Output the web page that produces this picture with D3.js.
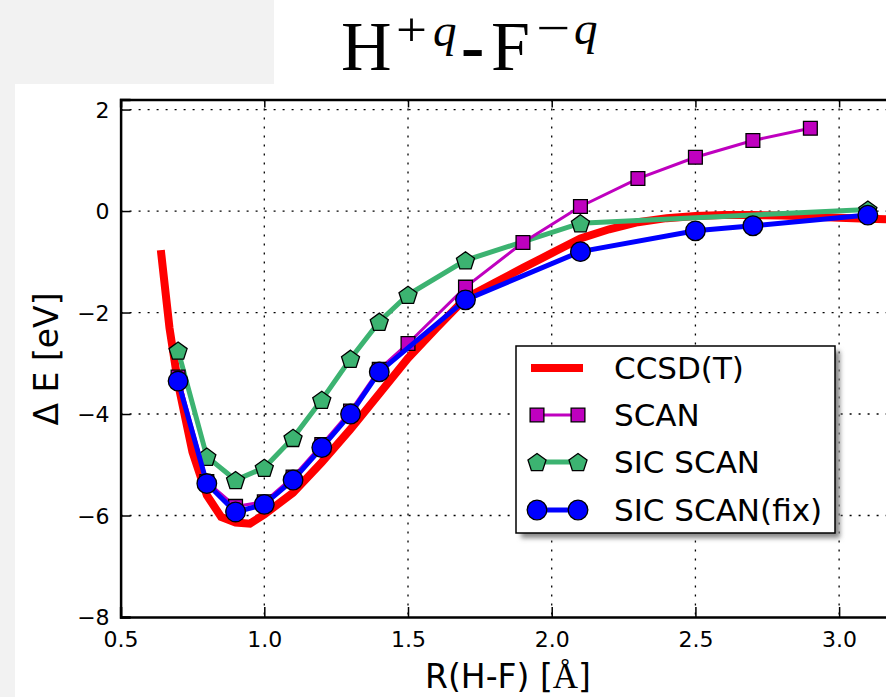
<!DOCTYPE html>
<html>
<head>
<meta charset="utf-8">
<script src="https://cdn.jsdelivr.net/npm/d3@7"></script>
<style>
  html, body { margin: 0; padding: 0; background: #ffffff; }
  svg { display: block; }
</style>
</head>
<body>
<svg id="chart" width="886" height="697"></svg>
<script>
// ---- data ----
const ccsdX = [0.64, 0.67, 0.70, 0.75, 0.80, 0.85, 0.90, 0.95, 1.00, 1.10, 1.20, 1.30, 1.40, 1.50, 1.60, 1.70, 1.80, 1.90, 2.00, 2.10, 2.20, 2.30, 2.40, 2.50, 2.60, 2.70, 2.80, 2.90, 3.00, 3.10, 3.20];
const ccsdY = [-0.77, -2.3, -3.4, -4.75, -5.6, -6.03, -6.14, -6.16, -5.98, -5.55, -4.95, -4.3, -3.6, -2.9, -2.3, -1.72, -1.42, -1.12, -0.83, -0.54, -0.36, -0.22, -0.14, -0.10, -0.08, -0.08, -0.09, -0.11, -0.13, -0.15, -0.17];

const scanX = [0.7, 0.8, 0.9, 1.0, 1.1, 1.2, 1.3, 1.4, 1.5, 1.7, 1.9, 2.1, 2.3, 2.5, 2.7, 2.9];
const scanY = [-3.27, -5.33, -5.82, -5.73, -5.24, -4.6, -3.94, -3.12, -2.61, -1.50, -0.62, 0.09, 0.64, 1.06, 1.39, 1.63];

const sicX = [0.7, 0.8, 0.9, 1.0, 1.1, 1.2, 1.3, 1.4, 1.5, 1.7, 2.1, 3.1];
const sicY = [-2.75, -4.84, -5.30, -5.06, -4.47, -3.72, -2.91, -2.18, -1.65, -0.97, -0.24, 0.03];

const fixX = [0.7, 0.8, 0.9, 1.0, 1.1, 1.2, 1.3, 1.4, 1.7, 2.1, 2.5, 2.7, 3.1];
const fixY = [-3.35, -5.37, -5.93, -5.78, -5.30, -4.66, -4.0, -3.17, -1.75, -0.80, -0.39, -0.29, -0.08];

const xTicks = [0.5, 1.0, 1.5, 2.0, 2.5, 3.0];
const yTicks = [-8, -6, -4, -2, 0, 2];
const legendLabels = ["CCSD(T)", "SCAN", "SIC SCAN", "SIC SCAN(fix)"];

// ---- layout ----
const svg = d3.select("#chart");
const W = 886, H = 697;
const pLeft = 120.6, pTop = 99.4, pBottom = 617, pRight = 896.6;

// background panels
svg.append("rect").attr("x", 0).attr("y", 0).attr("width", W).attr("height", H).attr("fill", "#ffffff");
svg.append("rect").attr("x", 0).attr("y", 0).attr("width", 274).attr("height", 84).attr("fill", "#f2f2f2");
svg.append("rect").attr("x", 0).attr("y", 0).attr("width", 15).attr("height", H).attr("fill", "#f2f2f2");

const x = d3.scaleLinear().domain([0.5, 3.2]).range([pLeft, pRight]);
const y = d3.scaleLinear().domain([-8, 2.2]).range([pBottom, pTop]);

// grid
const grid = svg.append("g");
grid.selectAll("line.vg").data(xTicks.filter(d => d > 0.5)).enter().append("line")
  .attr("x1", d => x(d)).attr("x2", d => x(d)).attr("y1", pTop).attr("y2", pBottom)
  .attr("stroke", "#000").attr("stroke-width", 1.3).attr("stroke-dasharray", "2,7");
grid.selectAll("line.hg").data(yTicks.filter(d => d > -8)).enter().append("line")
  .attr("x1", pLeft).attr("x2", pRight).attr("y1", d => y(d)).attr("y2", d => y(d))
  .attr("stroke", "#000").attr("stroke-width", 1.3).attr("stroke-dasharray", "2,7");

// axes
const fontSans = "'DejaVu Sans', sans-serif";
const xAxis = svg.append("g").attr("transform", `translate(0,${pBottom})`)
  .call(d3.axisBottom(x).tickValues(xTicks).tickFormat(d3.format(".1f")).tickSize(-10).tickPadding(14));
const xAxisTop = svg.append("g").attr("transform", `translate(0,${pTop})`)
  .call(d3.axisTop(x).tickValues(xTicks).tickFormat("").tickSize(-8));
const yAxis = svg.append("g").attr("transform", `translate(${pLeft},0)`)
  .call(d3.axisLeft(y).tickValues(yTicks).tickFormat(d => d < 0 ? "\u2212" + Math.abs(d) : d).tickSize(-10).tickPadding(11));
[xAxis, xAxisTop, yAxis].forEach(g => {
  g.select(".domain").attr("stroke", "#000").attr("stroke-width", 2.5);
  g.selectAll(".tick line").attr("stroke", "#000").attr("stroke-width", 1.5);
  g.selectAll(".tick text").attr("font-family", fontSans).attr("font-size", 22).attr("fill", "#000");
});
yAxis.selectAll(".tick text").attr("dy", "0.36em");

// series
const plot = svg.append("g");
const line = d3.line().x(d => x(d[0])).y(d => y(d[1]));

function pentagon(r) {
  const pts = d3.range(5).map(i => {
    const a = -Math.PI / 2 + i * 2 * Math.PI / 5;
    return [r * Math.cos(a), r * Math.sin(a) + r * 0.1];
  });
  return "M" + pts.map(p => p.join(",")).join("L") + "Z";
}
const sq = d3.symbol().type(d3.symbolSquare).size(190)();
const pent = pentagon(9.5);
const circ = d3.symbol().type(d3.symbolCircle).size(Math.PI * 9.8 * 9.8)();

const zip = (a, b) => a.map((v, i) => [v, b[i]]);

// red
plot.append("path").datum(zip(ccsdX, ccsdY)).attr("d", line)
  .attr("fill", "none").attr("stroke", "#ff0000").attr("stroke-width", 8).attr("stroke-linejoin", "miter");

function series(xs, ys, color, lw, shape) {
  const g = plot.append("g");
  g.append("path").datum(zip(xs, ys)).attr("d", line)
    .attr("fill", "none").attr("stroke", color).attr("stroke-width", lw);
  g.selectAll("path.m").data(zip(xs, ys)).enter().append("path")
    .attr("transform", d => `translate(${x(d[0])},${y(d[1])})`)
    .attr("d", shape).attr("fill", color).attr("stroke", "#000").attr("stroke-width", 1.3);
}
series(sicX, sicY, "#3cb371", 5, pent);
series(scanX, scanY, "#bf00bf", 3, sq);
series(fixX, fixY, "#0000ff", 5, circ);

// axis titles
const serif = "'Liberation Serif', 'Times New Roman', serif";
const xt = svg.append("text").attr("x", 508).attr("y", 688).attr("text-anchor", "middle")
  .attr("font-family", fontSans).attr("font-size", 33).attr("fill", "#000");
xt.append("tspan").text("R(H-F) [");
xt.append("tspan").attr("font-family", serif).attr("font-size", 35).text("Å");
xt.append("tspan").text("]");
svg.append("text").attr("transform", "translate(58,359) rotate(-90)").attr("text-anchor", "middle")
  .attr("font-family", fontSans).attr("font-size", 33).attr("fill", "#000")
  .text("Δ E [eV]");

// title
const t = svg.append("g").attr("font-family", serif).attr("fill", "#000");
t.append("text").attr("x", 341).attr("y", 70).attr("font-size", 70).text("H");
t.append("text").attr("x", 396).attr("y", 46).attr("font-size", 48)
  .attr("textLength", 31).attr("lengthAdjust", "spacingAndGlyphs").text("+");
t.append("text").attr("x", 433).attr("y", 46).attr("font-size", 47).attr("font-style", "italic").text("q");
t.append("text").attr("x", 461).attr("y", 70).attr("font-size", 70).attr("font-weight", "bold").text("-");
t.append("text").attr("x", 491).attr("y", 70).attr("font-size", 70).text("F");
t.append("text").attr("x", 536).attr("y", 44).attr("font-size", 48)
  .attr("textLength", 34).attr("lengthAdjust", "spacingAndGlyphs").text("\u2212");
t.append("text").attr("x", 574).attr("y", 44).attr("font-size", 47).attr("font-style", "italic").text("q");

// legend
const defs = svg.append("defs");
const f = defs.append("filter").attr("id", "shadow").attr("x", "-10%").attr("y", "-10%").attr("width", "130%").attr("height", "130%");
f.append("feGaussianBlur").attr("stdDeviation", 2.5);
const lg = svg.append("g");
const lx = 516, ly = 346, lw = 319, lh = 187;
lg.append("rect").attr("x", lx + 5).attr("y", ly + 5).attr("width", lw).attr("height", lh)
  .attr("fill", "#888").attr("filter", "url(#shadow)");
lg.append("rect").attr("x", lx).attr("y", ly).attr("width", lw).attr("height", lh)
  .attr("fill", "#fff").attr("stroke", "#000").attr("stroke-width", 1.5);
const rowY = [368, 415, 462, 510];
const legendStyles = [
  { color: "#ff0000", lw: 8, shape: null },
  { color: "#bf00bf", lw: 3, shape: sq },
  { color: "#3cb371", lw: 5, shape: pent },
  { color: "#0000ff", lw: 5, shape: circ }
];
legendLabels.forEach((lab, i) => {
  const s = legendStyles[i], cy = rowY[i];
  lg.append("line").attr("x1", 531).attr("x2", 583).attr("y1", cy).attr("y2", cy)
    .attr("stroke", s.color).attr("stroke-width", s.lw);
  if (s.shape) {
    [537, 578].forEach(mx => lg.append("path").attr("transform", `translate(${mx},${cy})`)
      .attr("d", s.shape).attr("fill", s.color).attr("stroke", "#000").attr("stroke-width", 1.3));
  }
  lg.append("text").attr("x", 614).attr("y", cy + 11).attr("font-family", fontSans)
    .attr("font-size", 31).attr("fill", "#000").text(lab);
});
</script>
</body>
</html>
